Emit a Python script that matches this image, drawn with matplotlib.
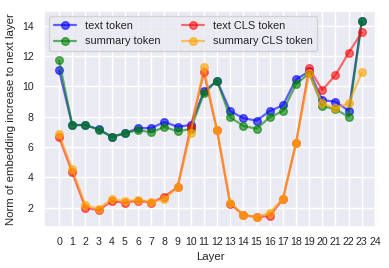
import matplotlib

matplotlib.use("Agg")
import matplotlib.pyplot as plt
import numpy as np
import seaborn as sns

sns.set_theme(style="darkgrid")
plt.rcParams["font.family"] = ["Liberation Sans", "DejaVu Sans"]

# norm of the embedding increase per layer
layers = np.arange(24)
text_token = [11.06, 7.45, 7.45, 7.17, 6.68, 6.9, 7.25, 7.25, 7.65, 7.34, 7.45, 9.67,
              10.37, 8.37, 7.91, 7.74, 8.37, 8.75, 10.46, 11.0, 9.1, 8.99, 8.4, 14.33]
summary_token = [11.72, 7.45, 7.45, 7.15, 6.68, 6.9, 7.12, 6.97, 7.32, 7.04, 7.19, 9.54,
                 10.37, 7.96, 7.39, 7.21, 7.96, 8.37, 10.13, 10.88, 8.7, 8.49, 8.0, 14.33]
text_cls = [6.64, 4.33, 1.98, 1.83, 2.42, 2.33, 2.46, 2.33, 2.73, 3.34, 7.3, 10.92,
            7.1, 2.24, 1.52, 1.37, 1.45, 2.55, 6.24, 11.19, 9.76, 10.75, 12.22, 13.56]
summary_cls = [6.84, 4.53, 2.16, 1.93, 2.55, 2.44, 2.51, 2.38, 2.55, 3.34, 6.95, 11.25,
               7.12, 2.33, 1.52, 1.37, 1.67, 2.55, 6.24, 10.86, 8.88, 8.55, 8.88, 10.92]

fig, ax = plt.subplots(figsize=(3.89, 2.68), dpi=100)
fig.subplots_adjust(left=0.113, right=0.969, bottom=0.153, top=0.959)

ax.plot(layers, text_token, marker="o", color="blue", alpha=0.6, lw=1.6, ms=5.5, label="text token")
ax.plot(layers, summary_token, marker="o", color="green", alpha=0.6, lw=1.6, ms=5.5, label="summary token")
ax.plot(layers, text_cls, marker="o", color="red", alpha=0.55, lw=1.6, ms=5.5, label="text CLS token")
ax.plot(layers, summary_cls, marker="o", color="orange", alpha=0.6, lw=1.6, ms=5.5, label="summary CLS token")

ax.set_xticks(np.arange(25))
ax.tick_params(axis="both", labelsize=7.6, length=0, pad=7.5)
ax.set_xlabel("Layer", fontsize=8.2, labelpad=3)
ax.set_ylabel("Norm of embedding increase to next layer", fontsize=8.2, labelpad=4)
ax.legend(ncol=2, loc="upper left", fontsize=7.9, columnspacing=2.0)

fig.savefig("out.png", dpi=100)
